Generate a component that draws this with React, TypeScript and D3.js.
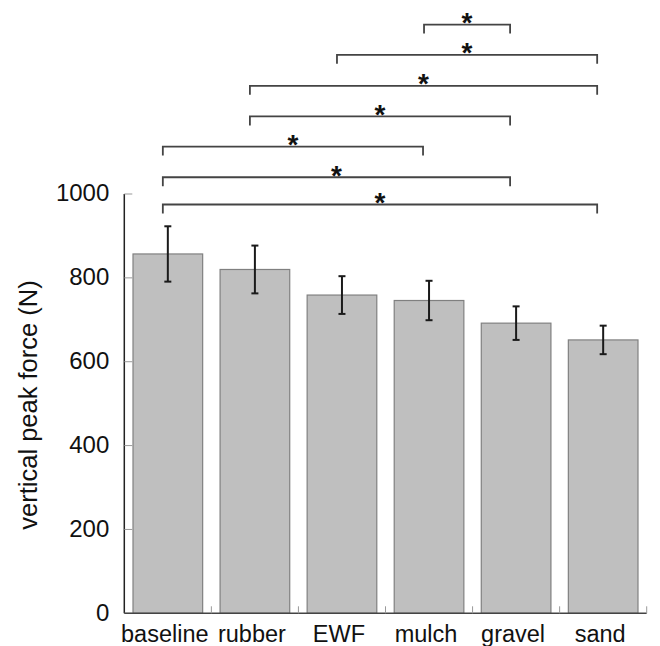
import React from "react";
import * as d3 from "d3";

// surfaces and their mean vertical peak force with SD
const surfaces = ["baseline", "rubber", "EWF", "mulch", "gravel", "sand"];
const meanForce = [857, 820, 759, 746, 692, 652];
const sdForce = [66, 57, 45, 47, 40, 34];
const yTicks = [0, 200, 400, 600, 800, 1000];

// significant pairs (*), top to bottom, with the height of the bracket in N
const pairFrom = ["mulch", "EWF", "rubber", "rubber", "baseline", "baseline", "baseline"];
const pairTo = ["gravel", "sand", "sand", "gravel", "mulch", "gravel", "sand"];
const pairLevel = [1404, 1332, 1258, 1185, 1113, 1040, 975];

const W = 660;
const H = 646;
const font = "'Liberation Sans', Arial, Helvetica, sans-serif";

const App = () => {
  const x = d3
    .scaleBand()
    .domain(surfaces)
    .range([124.3, 646.7])
    .paddingInner(0.2)
    .paddingOuter(0.1);
  const y = d3.scaleLinear().domain([0, 1000]).range([613.3, 194]);
  const step = x.step();
  const cx = (s) => (x(s) || 0) + x.bandwidth() / 2;
  const x0 = x.range()[0];
  const x1 = x.range()[1];

  return (
    <svg
      width={W}
      height={H}
      style={{ position: "absolute", left: 0, top: 0, background: "#fff" }}
      fontFamily={font}
    >
      {/* bars */}
      {surfaces.map((s, i) => (
        <rect
          key={s}
          x={x(s)}
          y={y(meanForce[i])}
          width={x.bandwidth()}
          height={y(0) - y(meanForce[i])}
          fill="#bfbfbf"
          stroke="#808080"
          strokeWidth={1.2}
        />
      ))}

      {/* error bars */}
      {surfaces.map((s, i) => {
        const c = cx(s);
        const top = y(meanForce[i] + sdForce[i]);
        const bot = y(meanForce[i] - sdForce[i]);
        return (
          <g key={s} stroke="#1a1a1a" strokeWidth={2}>
            <line x1={c} x2={c} y1={top} y2={bot} />
            <line x1={c - 3.5} x2={c + 3.5} y1={top} y2={top} />
            <line x1={c - 3.5} x2={c + 3.5} y1={bot} y2={bot} />
          </g>
        );
      })}

      {/* y axis */}
      <line x1={x0} x2={x0} y1={y(1000)} y2={y(0)} stroke="#222" strokeWidth={1.5} />
      {yTicks.map((t) => (
        <g key={t}>
          <line x1={x0} x2={x0 + 8} y1={y(t)} y2={y(t)} stroke="#999" strokeWidth={1} />
          <text
            x={x0 - 15}
            y={y(t)}
            dy="0.3em"
            textAnchor="end"
            fontSize={24}
            fill="#111"
          >
            {t}
          </text>
        </g>
      ))}
      <text
        transform={`translate(37, 405) rotate(-90)`}
        textAnchor="middle"
        fontSize={25.5}
        fill="#111"
      >
        vertical peak force (N)
      </text>

      {/* x axis */}
      <line x1={x0} x2={x1} y1={y(0)} y2={y(0)} stroke="#444" strokeWidth={1.5} />
      {surfaces.map((s) => {
        const bx = (x(s) || 0) + x.bandwidth() + step * 0.1;
        return (
          <line key={s} x1={bx} x2={bx} y1={y(0)} y2={y(0) - 7} stroke="#999" strokeWidth={1} />
        );
      })}
      {surfaces.map((s) => (
        <text key={s} x={cx(s) - 3} y={642} textAnchor="middle" fontSize={23.5} fill="#111">
          {s}
        </text>
      ))}

      {/* significance brackets */}
      {pairFrom.map((a, i) => {
        const xa = cx(a) - 5;
        const xb = cx(pairTo[i]) - 6;
        const ly = y(pairLevel[i]);
        return (
          <g key={i}>
            <path
              d={`M${xa},${ly + 9}V${ly}H${xb}V${ly + 9}`}
              fill="none"
              stroke="#444"
              strokeWidth={1.8}
            />
            <text
              x={(xa + xb) / 2}
              y={ly + 7.5}
              textAnchor="middle"
              fontSize={28}
              fontWeight="bold"
              fill="#111"
            >
              *
            </text>
          </g>
        );
      })}
    </svg>
  );
};

export default App;
